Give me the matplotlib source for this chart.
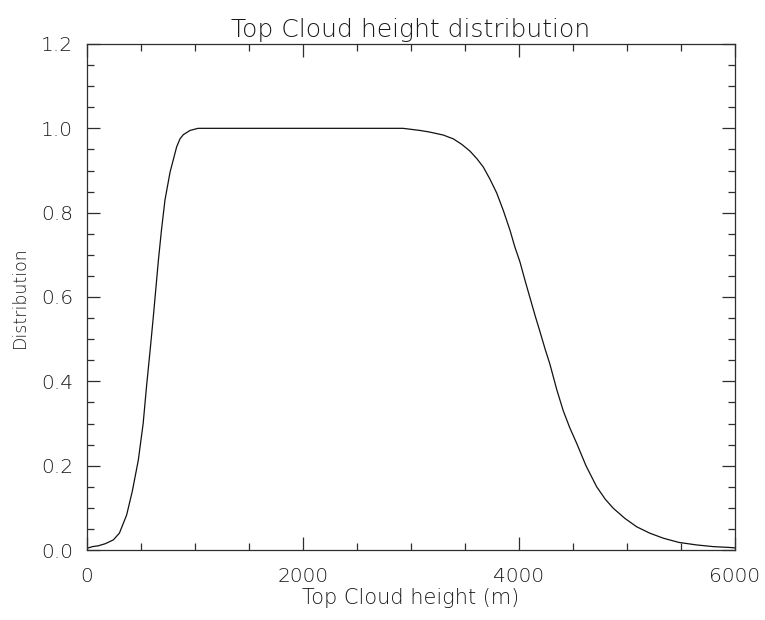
import matplotlib
matplotlib.use("Agg")
import matplotlib.pyplot as plt
from matplotlib.ticker import MultipleLocator

# cloud-top height (m) and normalised distribution
height = [0, 50, 105, 170, 244, 300, 367, 420, 475, 520, 552, 585, 614, 661,
          690, 722, 769, 830, 861, 892, 954, 1028, 2000, 2926, 3083, 3176,
          3300, 3392, 3470, 3546, 3610, 3670, 3730, 3793, 3855, 3917, 3960,
          4009, 4055, 4102, 4150, 4194, 4240, 4287, 4350, 4410, 4470, 4534,
          4620, 4719, 4800, 4873, 4980, 5090, 5210, 5336, 5480, 5645, 5800,
          5954, 6000]
dist = [0.004, 0.008, 0.010, 0.015, 0.024, 0.040, 0.083, 0.140, 0.213, 0.300,
        0.390, 0.475, 0.553, 0.687, 0.760, 0.830, 0.896, 0.956, 0.975, 0.985,
        0.995, 1.000, 1.000, 1.000, 0.995, 0.991, 0.984, 0.975, 0.962, 0.946,
        0.928, 0.908, 0.880, 0.847, 0.805, 0.758, 0.720, 0.683, 0.640, 0.598,
        0.555, 0.518, 0.478, 0.440, 0.380, 0.330, 0.290, 0.253, 0.200, 0.150,
        0.120, 0.099, 0.075, 0.055, 0.040, 0.028, 0.018, 0.012, 0.008, 0.006,
        0.005]

plt.rcParams['font.family'] = ['DejaVu Sans']
plt.rcParams['font.weight'] = 'light'
ink = '#1a1a1a'

fig = plt.figure(figsize=(7.65, 6.2), dpi=100)
ax = fig.add_axes([87/765, 70/620, 648/765, 506/620])

ax.plot(height, dist, color='#111111', lw=0.9)

ax.set_xlim(0, 6000)
ax.set_ylim(0, 1.2)
ax.xaxis.set_major_locator(MultipleLocator(2000))
ax.xaxis.set_minor_locator(MultipleLocator(500))
ax.yaxis.set_major_locator(MultipleLocator(0.2))
ax.yaxis.set_minor_locator(MultipleLocator(0.05))
ax.yaxis.set_major_formatter(lambda v, p: f"{v:.1f}")

ax.tick_params(which='both', direction='in', top=True, right=True,
               color='#2e2e2e', width=0.9, labelsize=14.5, labelcolor=ink)
ax.tick_params(which='major', length=9.5)
ax.tick_params(which='minor', length=5)
ax.tick_params(axis='x', pad=12)
ax.tick_params(axis='y', pad=10)
for s in ax.spines.values():
    s.set_color('#2e2e2e')
    s.set_linewidth(0.9)

ax.set_title('Top Cloud height distribution', fontsize=18, color=ink,
             fontweight='light', pad=5)
ax.set_xlabel('Top Cloud height (m)', fontsize=15, color=ink,
              fontweight='light', labelpad=2)
ax.set_ylabel('Distribution', fontsize=12.5, color=ink,
              fontweight='light', labelpad=9)

fig.savefig('out.png', dpi=100)
